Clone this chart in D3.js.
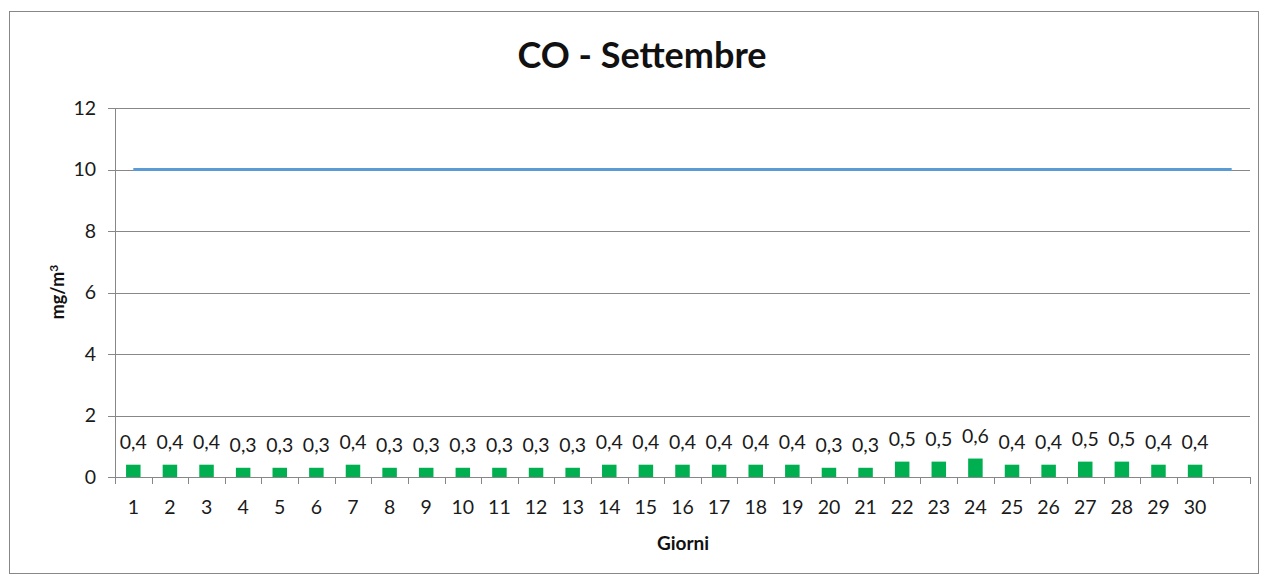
<!DOCTYPE html>
<html>
<head>
<meta charset="utf-8">
<script src="https://cdn.jsdelivr.net/npm/d3@7"></script>
<style>
  body { margin: 0; background: #fff; }
  svg { display: block; font-family: Lato, "Open Sans", sans-serif; }
</style>
</head>
<body>
<svg id="chart" width="1263" height="574"></svg>
<script>
// data
const days = ['1','2','3','4','5','6','7','8','9','10','11','12','13','14','15','16','17','18','19','20','21','22','23','24','25','26','27','28','29','30',''];
const coValues = [0.4,0.4,0.4,0.3,0.3,0.3,0.4,0.3,0.3,0.3,0.3,0.3,0.3,0.4,0.4,0.4,0.4,0.4,0.4,0.3,0.3,0.5,0.5,0.6,0.4,0.4,0.5,0.5,0.4,0.4];
const limitValues = [10,10,10,10,10,10,10,10,10,10,10,10,10,10,10,10,10,10,10,10,10,10,10,10,10,10,10,10,10,10,10];
const yTicks = [0,2,4,6,8,10,12];

const svg = d3.select('#chart');
const gridColor = '#878787';
const textColor = '#1a1a1a';

// outer border
svg.append('rect')
    .attr('x', 9.5).attr('y', 11.5)
    .attr('width', 1249).attr('height', 562)
    .attr('fill', 'none')
    .attr('stroke', gridColor);

const plotLeft = 115, plotRight = 1250, plotTop = 108, plotBottom = 477;

const x = d3.scaleBand().domain(d3.range(days.length)).range([plotLeft, plotRight]);
const y = d3.scaleLinear().domain([0, 12]).range([plotBottom, plotTop]);

// grid lines
svg.append('g')
    .selectAll('line')
    .data(yTicks)
    .join('line')
    .attr('x1', plotLeft - 7)
    .attr('x2', plotRight)
    .attr('y1', d => Math.round(y(d)) + 0.5)
    .attr('y2', d => Math.round(y(d)) + 0.5)
    .attr('stroke', gridColor);

// y axis line
svg.append('line')
    .attr('x1', plotLeft + 0.5).attr('x2', plotLeft + 0.5)
    .attr('y1', plotTop).attr('y2', plotBottom)
    .attr('stroke', gridColor);

// x ticks
svg.append('g')
    .selectAll('line')
    .data(d3.range(days.length + 1))
    .join('line')
    .attr('x1', i => Math.round(plotLeft + i * x.step()) + 0.5)
    .attr('x2', i => Math.round(plotLeft + i * x.step()) + 0.5)
    .attr('y1', plotBottom)
    .attr('y2', plotBottom + 7)
    .attr('stroke', gridColor);

// y labels
svg.append('g')
    .selectAll('text')
    .data(yTicks)
    .join('text')
    .attr('x', 96)
    .attr('y', d => y(d))
    .attr('dy', '0.35em')
    .attr('text-anchor', 'end')
    .attr('font-size', 19.5)
    .attr('fill', textColor)
    .text(d => d);

// x labels
svg.append('g')
    .selectAll('text')
    .data(days)
    .join('text')
    .attr('x', (d, i) => x(i) + x.bandwidth() / 2)
    .attr('y', 514)
    .attr('text-anchor', 'middle')
    .attr('font-size', 19.5)
    .attr('fill', textColor)
    .text(d => d);

// bars
const barW = 14.5;
svg.append('g')
    .selectAll('rect')
    .data(coValues)
    .join('rect')
    .attr('x', (d, i) => x(i) + x.bandwidth() / 2 - barW / 2)
    .attr('y', d => y(d))
    .attr('width', barW)
    .attr('height', d => plotBottom - y(d))
    .attr('fill', '#00b050');

// value labels
svg.append('g')
    .selectAll('text')
    .data(coValues)
    .join('text')
    .attr('x', (d, i) => x(i) + x.bandwidth() / 2)
    .attr('y', d => y(d) - 16)
    .attr('text-anchor', 'middle')
    .attr('font-size', 19.5)
    .attr('fill', textColor)
    .text(d => String(d).replace('.', ','));

// limit line
const line = d3.line()
    .x((d, i) => x(i) + x.bandwidth() / 2)
    .y(d => y(d));

svg.append('path')
    .datum(limitValues)
    .attr('d', line)
    .attr('fill', 'none')
    .attr('stroke', '#5b9bd5')
    .attr('stroke-width', 3);

// titles
svg.append('text')
    .attr('x', 642).attr('y', 68)
    .attr('text-anchor', 'middle')
    .attr('font-size', 36)
    .attr('font-weight', 'bold')
    .attr('fill', '#111')
    .text('CO - Settembre');

svg.append('text')
    .attr('x', 683).attr('y', 550)
    .attr('text-anchor', 'middle')
    .attr('font-size', 19)
    .attr('font-weight', 'bold')
    .attr('fill', '#111')
    .text('Giorni');

const yTitle = svg.append('text')
    .attr('transform', 'translate(64,292) rotate(-90)')
    .attr('text-anchor', 'middle')
    .attr('font-size', 18)
    .attr('font-weight', 'bold')
    .attr('fill', '#111');
yTitle.append('tspan').text('mg/m');
yTitle.append('tspan')
    .attr('font-size', 12)
    .attr('dy', '-0.5em')
    .text('3');
</script>
</body>
</html>
